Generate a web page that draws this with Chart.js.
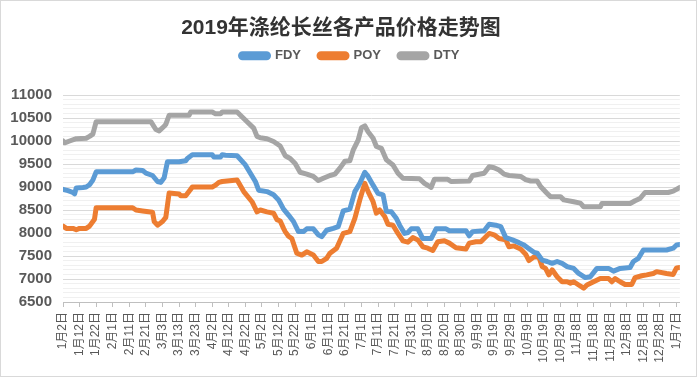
<!DOCTYPE html>
<html>
<head>
<meta charset="utf-8">
<script src="https://cdn.jsdelivr.net/npm/chart.js@4"></script>
<style>
  body { margin: 0; background: #fff; }
  #wrap { width: 697px; height: 377px; box-sizing: border-box; border: 1px solid #d9d9d9; position: relative; }
</style>
</head>
<body>
<div id="wrap"><canvas id="priceChart"></canvas></div>
<script>
const tickLabels = ['1月2日', '1月12日', '1月22日', '2月1日', '2月11日', '2月21日', '3月3日', '3月13日', '3月23日',
    '4月2日', '4月12日', '4月22日', '5月2日', '5月12日', '5月22日', '6月1日', '6月11日', '6月21日',
    '7月1日', '7月11日', '7月21日', '7月31日', '8月10日', '8月20日', '8月30日', '9月9日', '9月19日',
    '9月29日', '10月9日', '10月19日', '10月29日', '11月8日', '11月18日', '11月28日', '12月8日',
    '12月18日', '12月28日', '1月7日'];

// day index counted from 1月2日
const fdyDays = [0, 3, 6, 7, 8, 12, 14, 16, 18, 20, 42, 44, 48, 50, 54, 57, 59, 61, 63, 70, 74, 75, 78, 90, 91, 95, 96, 98, 105,
    110, 113, 116, 118, 123, 127, 130, 133, 136, 139, 142, 145, 147, 151, 154, 156, 159, 163, 166, 169, 173, 176, 179, 182,
    184, 187, 190, 193, 195, 198, 201, 203, 206, 208, 210, 214, 217, 222, 225, 231, 233, 243, 245, 247, 254, 257, 261, 264,
    267, 271, 275, 278, 281, 284, 286, 289, 292, 295, 298, 301, 304, 308, 311, 315, 318, 322, 329, 332, 336, 342, 344, 347,
    350, 364, 368, 370, 372];
const fdyValues = [8950, 8920, 8880, 8850, 8980, 8990, 9000, 9050, 9150, 9330, 9330, 9370, 9360, 9300, 9250, 9120, 9100, 9200, 9550, 9550, 9570, 9620, 9700, 9700, 9650, 9650, 9700, 9690, 9680,
    9480, 9300, 9120, 8930, 8900, 8830, 8720, 8520, 8390, 8250, 8030, 8030, 8090, 8090, 7960, 7920, 8060, 8100, 8140, 8480, 8520, 8900, 9080, 9320,
    9230, 9040, 8860, 8830, 8470, 8460, 8320, 8170, 7990, 8010, 8090, 8090, 7880, 7880, 8090, 8090, 8050, 8050, 7940, 8030, 8050, 8190, 8170, 8140,
    7900, 7850, 7790, 7740, 7660, 7580, 7560, 7410, 7380, 7340, 7380, 7340, 7270, 7230, 7120, 7030, 7050, 7230, 7230, 7170, 7230, 7250, 7380, 7450,
    7630, 7630, 7670, 7740, 7750];

const poyDays = [0, 2, 6, 8, 10, 14, 16, 19, 20, 42, 44, 48, 54, 55, 57, 60, 62, 64, 70, 71, 74, 77, 78, 90, 92, 94, 96, 105,
    109, 114, 117, 119, 123, 127, 129, 131, 133, 134, 136, 138, 141, 144, 147, 151, 154, 156, 159, 161, 165, 169, 173, 176,
    179, 182, 184, 187, 189, 191, 194, 196, 199, 202, 205, 208, 211, 214, 217, 220, 223, 226, 230, 233, 237, 243, 245, 249,
    252, 257, 260, 263, 267, 269, 272, 276, 279, 281, 284, 287, 289, 291, 293, 295, 298, 301, 304, 306, 308, 311, 314, 316,
    320, 324, 329, 331, 333, 336, 339, 343, 345, 349, 352, 356, 358, 364, 368, 370, 372];
const poyValues = [8150, 8100, 8100, 8070, 8100, 8100, 8150, 8300, 8550, 8550, 8500, 8480, 8450, 8250, 8170, 8250, 8340, 8870, 8850, 8810, 8810, 8950, 9000, 9000, 9040, 9100, 9120, 9150,
    8900, 8680, 8460, 8500, 8460, 8430, 8290, 8260, 8100, 8030, 7930, 7880, 7560, 7520, 7590, 7520, 7380, 7380, 7450, 7560, 7670, 7990, 8030, 8320,
    8720, 9080, 8900, 8680, 8430, 8500, 8360, 8190, 8170, 7990, 7830, 7800, 7900, 7850, 7700, 7670, 7620, 7810, 7830, 7780, 7680, 7650, 7780, 7810,
    7810, 7990, 7960, 7880, 7850, 7700, 7720, 7650, 7540, 7400, 7480, 7480, 7270, 7230, 7090, 7200, 7050, 6940, 6940, 6910, 6940, 6870, 6800, 6870,
    6940, 7010, 7010, 6940, 7010, 6940, 6880, 6880, 7030, 7070, 7090, 7120, 7160, 7120, 7100, 7240, 7250];

const dtyDays = [0, 1, 4, 8, 14, 16, 18, 20, 53, 56, 58, 61, 62, 64, 76, 77, 90, 92, 95, 96, 105, 111, 115, 117, 119, 123, 127,
    131, 134, 137, 140, 143, 147, 151, 154, 157, 161, 164, 167, 170, 173, 175, 178, 180, 182, 184, 187, 189, 192, 195, 199,
    202, 205, 215, 218, 222, 224, 232, 234, 245, 247, 254, 257, 260, 263, 266, 269, 276, 279, 282, 286, 288, 292, 294, 300,
    302, 308, 312, 314, 324, 325, 342, 345, 348, 351, 365, 368, 372];
const dtyValues = [10000, 9960, 10000, 10050, 10060, 10100, 10150, 10420, 10420, 10250, 10220, 10320, 10360, 10560, 10560, 10630, 10630, 10590, 10590, 10630, 10630, 10420, 10280, 10100, 10070, 10050, 9990,
    9890, 9680, 9620, 9510, 9320, 9280, 9230, 9140, 9190, 9250, 9280, 9410, 9560, 9570, 9800, 10020, 10290, 10330, 10200, 10060, 9880, 9840, 9590, 9480,
    9300, 9190, 9180, 9080, 8990, 9170, 9170, 9120, 9130, 9250, 9300, 9440, 9420, 9370, 9280, 9250, 9230, 9160, 9130, 9130, 9010, 8860, 8790, 8790,
    8720, 8680, 8650, 8570, 8570, 8640, 8640, 8700, 8750, 8880, 8880, 8910, 8990];

const toPoints = (days, values) => days.map((d, i) => ({ x: d, y: values[i] }));

const fontFamily = '"Liberation Sans", "Noto Sans CJK SC", sans-serif';

function lineSet(label, days, values, color) {
    return {
        label: label,
        data: toPoints(days, values),
        borderColor: color,
        backgroundColor: color,
        borderWidth: 5,
        borderJoinStyle: 'round',
        borderCapStyle: 'round',
        pointRadius: 0,
        tension: 0
    };
}

// nudge the legend a little to the right, like the original
const legendShift = {
    id: 'legendShift',
    afterLayout(chart) {
        if (chart.legend) {
            chart.legend.left += 9;
            chart.legend.right += 9;
        }
    }
};

const ctx = document.getElementById('priceChart');
new Chart(ctx, {
    type: 'line',
    data: {
        datasets: [
            lineSet('FDY', fdyDays, fdyValues, '#5b9bd5'),
            lineSet('POY', poyDays, poyValues, '#ed7d31'),
            lineSet('DTY', dtyDays, dtyValues, '#a5a5a5')
        ]
    },
    plugins: [legendShift],
    options: {
        responsive: true,
        maintainAspectRatio: false,
        animation: false,
        layout: { padding: { left: 0, right: 15, top: 0, bottom: 0 } },
        plugins: {
            title: {
                display: true,
                text: '2019年涤纶长丝各产品价格走势图',
                color: '#333333',
                font: { family: fontFamily, size: 21, weight: 'bold' },
                padding: { top: 15, bottom: -10 }
            },
            // empty block that keeps the gap between the legend and the plot
            subtitle: {
                display: true,
                text: '',
                weight: 500,
                padding: 0,
                font: { size: 10, lineHeight: 2.28 }
            },
            legend: {
                display: true,
                labels: {
                    color: '#595959',
                    font: { family: fontFamily, size: 13, weight: 'bold' },
                    boxWidth: 28,
                    boxHeight: 4,
                    useBorderRadius: true,
                    borderRadius: 2,
                    padding: 18
                }
            },
            tooltip: { enabled: false }
        },
        scales: {
            x: {
                type: 'linear',
                min: 0,
                max: 372,
                afterFit: (s) => { s.height = 74; },
                border: { color: '#bfbfbf' },
                grid: { drawOnChartArea: false, drawTicks: true, tickLength: 5, color: '#bfbfbf' },
                ticks: {
                    stepSize: 10,
                    includeBounds: false,
                    autoSkip: false,
                    maxRotation: 90,
                    minRotation: 90,
                    padding: 5,
                    color: '#595959',
                    font: { family: fontFamily, size: 12 },
                    callback: (v) => tickLabels[v / 10] ?? ''
                }
            },
            y: {
                min: 6500,
                max: 11000,
                afterFit: (s) => { s.width = 62; },
                border: { display: false },
                grid: {
                    drawTicks: false,
                    color: (c) => (c.tick && c.tick.value % 500 === 0) ? '#d9d9d9' : '#f0f0f0'
                },
                ticks: {
                    stepSize: 100,
                    autoSkip: false,
                    padding: 11,
                    color: '#595959',
                    font: { family: fontFamily, size: 15, weight: 'bold' },
                    callback: (v) => v % 500 === 0 ? v : ''
                }
            }
        }
    }
});
</script>
</body>
</html>
